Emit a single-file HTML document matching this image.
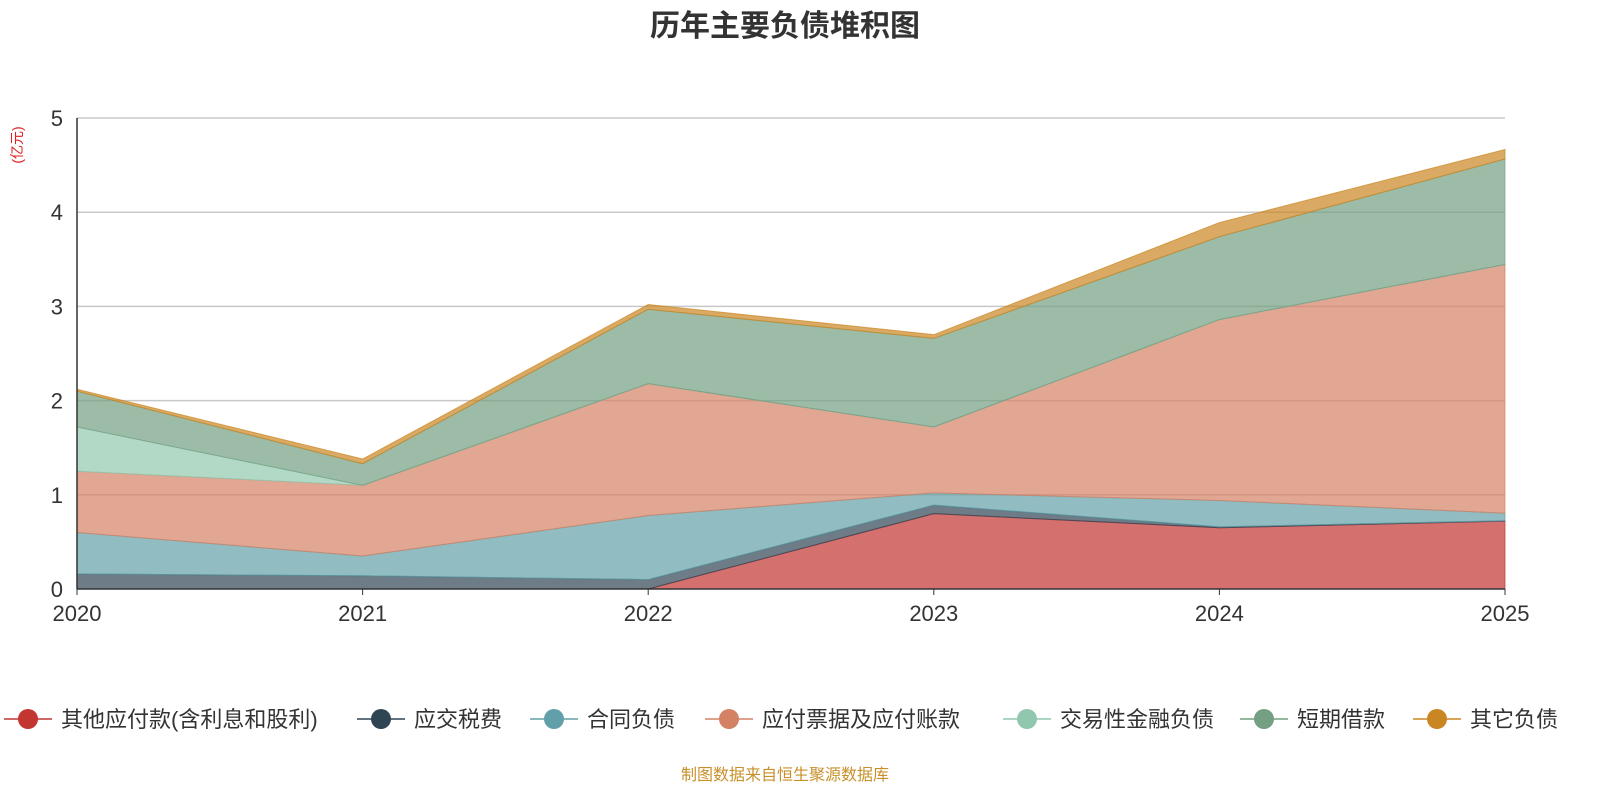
<!DOCTYPE html>
<html><head><meta charset="utf-8">
<style>
body{margin:0;background:#fff;font-family:"Liberation Sans","Noto Sans CJK SC",sans-serif;}
svg text{font-family:"Liberation Sans","Noto Sans CJK SC",sans-serif;}
</style></head>
<body>
<svg id="chart" width="1600" height="800">
<text x="785" y="36" text-anchor="middle" font-size="30" font-weight="bold" fill="#333">历年主要负债堆积图</text>
<text x="0" y="0" transform="translate(22,145) rotate(-90)" text-anchor="middle" font-size="14" fill="#e02020">(亿元)</text>
<g id="grid"></g>
<g id="areas"></g>
<g id="axes"></g>
<g id="legend"></g>
<text x="785" y="780" text-anchor="middle" font-size="16" fill="#c8902a">制图数据来自恒生聚源数据库</text>
</svg>
<script>
const years=["2020","2021","2022","2023","2024","2025"];
const yTicks=[0,1,2,3,4,5];
const seriesNames=["其他应付款(含利息和股利)","应交税费","合同负债","应付票据及应付账款","交易性金融负债","短期借款","其它负债"];
const sOther=[0,0,0,0.80,0.65,0.72];
const sTax=[0.16,0.14,0.10,0.09,0.01,0.005];
const sContract=[0.44,0.21,0.68,0.13,0.28,0.08];
const sPayable=[0.65,0.75,1.40,0.70,1.92,2.64];
const sTrading=[0.47,0,0,0,0,0];
const sShort=[0.38,0.23,0.79,0.94,0.88,1.12];
const sRest=[0.02,0.05,0.05,0.04,0.15,0.10];
const allSeries=[sOther,sTax,sContract,sPayable,sTrading,sShort,sRest];
const colors=["#c23531","#2f4554","#61a0a8","#d48265","#91c7ae","#749f83","#ca8622"];
const NS="http://www.w3.org/2000/svg";
const x0=77,x1=1505,yb=589,yt=118,ymax=5;
const X=i=>x0+(x1-x0)*i/(years.length-1);
const Y=v=>yb-(yb-yt)*v/ymax;
function mk(t,a,p){const e=document.createElementNS(NS,t);for(const k in a)e.setAttribute(k,a[k]);p.appendChild(e);return e;}
const grid=document.getElementById('grid'),axes=document.getElementById('axes'),areas=document.getElementById('areas'),legend=document.getElementById('legend');
yTicks.forEach(t=>{
  if(t>0){const l=mk('line',{x1:x0,x2:x1,y1:Y(t),y2:Y(t),stroke:'#c8c8c8','stroke-width':1.5},grid);
  
  }
  const tx=mk('text',{x:x0-14,y:Y(t)+8,'text-anchor':'end','font-size':22,fill:'#333'},axes);tx.textContent=t;
  
  
});
let cum=years.map(()=>0);
allSeries.forEach((s,k)=>{
  const lower=cum.slice();const upper=cum.map((c,i)=>c+s[i]);cum=upper;
  let d='M'+upper.map((v,i)=>X(i)+','+Y(v)).join(' L');
  for(let i=years.length-1;i>=0;i--)d+=' L'+X(i)+','+Y(lower[i]);
  d+='Z';
  const p=mk('path',{d:d,fill:colors[k],'fill-opacity':0.7,stroke:colors[k],'stroke-opacity':0.7,'stroke-width':1},areas);
  
  
});
const ax=mk('line',{x1:x0,x2:x1,y1:yb,y2:yb,stroke:'#333','stroke-width':1.5},axes);


const ay=mk('line',{x1:x0,x2:x0,y1:yt,y2:yb,stroke:'#333','stroke-width':1.5},axes);


years.forEach((y,i)=>{
  mk('line',{x1:X(i),x2:X(i),y1:yb,y2:yb+6,stroke:'#333'},axes);
  const t=mk('text',{x:X(i),y:yb+32,'text-anchor':'middle','font-size':22,fill:'#333'},axes);t.textContent=y;
  
  
});
const lx=[4,357,530,705,1003,1240,1413];
seriesNames.forEach((n,k)=>{
  const g=mk('g',{},legend);
  
  
  mk('line',{x1:lx[k],x2:lx[k]+48,y1:719,y2:719,stroke:colors[k],'stroke-width':1.5},g);
  mk('circle',{cx:lx[k]+24,cy:719,r:10,fill:colors[k]},g);
  const t=mk('text',{x:lx[k]+57,y:727,'font-size':22,fill:'#333'},g);t.textContent=n;
});
</script>
</body></html>
